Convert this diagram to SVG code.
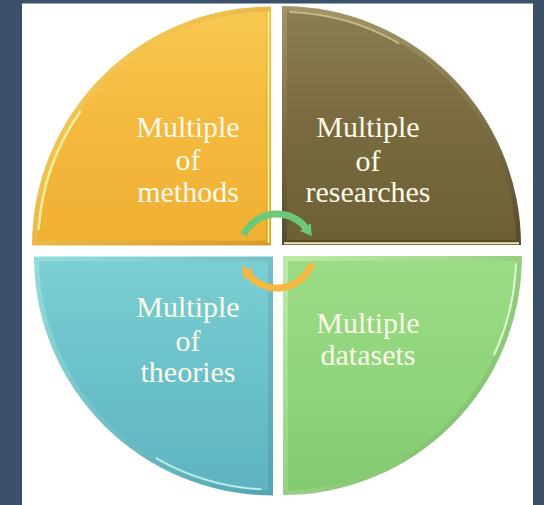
<svg xmlns="http://www.w3.org/2000/svg" width="544" height="505" viewBox="0 0 544 505">
  <style>
    .lbl { font-family: "Liberation Serif", "Times New Roman", serif; font-size: 30px; fill: #fdfaea; text-anchor: middle; }
    .arc { fill: none; stroke-width: 7; stroke-linecap: butt; }
    .hl { fill: none; stroke-linecap: round; }
  </style>
  <defs>
    <linearGradient id="eTL" x1="0" y1="0" x2="1" y2="1">
      <stop offset="0" stop-color="#fcd766"/>
      <stop offset="1" stop-color="#d79b2a"/>
    </linearGradient>
    <linearGradient id="gTL" x1="0" y1="0" x2="0" y2="1">
      <stop offset="0" stop-color="#f8c850"/>
      <stop offset="0.5" stop-color="#f4b93e"/>
      <stop offset="1" stop-color="#f0b034"/>
    </linearGradient>
    <linearGradient id="eTR" x1="0" y1="0" x2="0" y2="1">
      <stop offset="0" stop-color="#a39568"/>
      <stop offset="1" stop-color="#564b29"/>
    </linearGradient>
    <linearGradient id="gTR" x1="0" y1="0" x2="0" y2="1">
      <stop offset="0" stop-color="#8b7e52"/>
      <stop offset="0.45" stop-color="#7a6c40"/>
      <stop offset="1" stop-color="#6d6036"/>
    </linearGradient>
    <linearGradient id="eBL" x1="0" y1="0" x2="1" y2="1">
      <stop offset="0" stop-color="#95dcdc"/>
      <stop offset="1" stop-color="#54a4b1"/>
    </linearGradient>
    <linearGradient id="gBL" x1="0" y1="0" x2="0" y2="1">
      <stop offset="0" stop-color="#7bcfd2"/>
      <stop offset="0.5" stop-color="#6bc1ca"/>
      <stop offset="1" stop-color="#5fb3c2"/>
    </linearGradient>
    <linearGradient id="eBR" x1="0" y1="0" x2="1" y2="1">
      <stop offset="0" stop-color="#bdeca6"/>
      <stop offset="1" stop-color="#70b45e"/>
    </linearGradient>
    <linearGradient id="gBR" x1="0" y1="0" x2="0" y2="1">
      <stop offset="0" stop-color="#9bdc86"/>
      <stop offset="0.6" stop-color="#8dd47a"/>
      <stop offset="1" stop-color="#82ca6f"/>
    </linearGradient>
    <marker id="headG" viewBox="0 0 10 12" refX="3" refY="6" markerWidth="11" markerHeight="13.2" markerUnits="userSpaceOnUse" orient="auto">
      <path d="M0,0 L10,6 L0,12 z" fill="#6fc877"/>
    </marker>
    <marker id="headO" viewBox="0 0 10 12" refX="3" refY="6" markerWidth="11" markerHeight="13.2" markerUnits="userSpaceOnUse" orient="auto">
      <path d="M0,0 L10,6 L0,12 z" fill="#f5b843"/>
    </marker>
  </defs>

  <rect x="0" y="0" width="544" height="505" fill="#3b5069"/>
  <rect x="22" y="3.5" width="511" height="501.5" fill="#ffffff"/>

  <g id="node-methods">
    <path d="M271,245.5 L32,245.5 A239,239 0 0 1 271,6.5 Z" fill="url(#eTL)"/>
    <path d="M266,240.5 L37.05,240.5 A234,234 0 0 1 266,11.55 Z" fill="url(#gTL)"/>
    <path class="hl" d="M38.6,229.2 A233,233 0 0 1 80.1,111.9" stroke="#fff5a6" stroke-width="2.5" opacity="0.9"/>
    <line class="hl" x1="268.5" y1="12" x2="268.5" y2="242" stroke="#fff27c" stroke-width="2"/>
    <text class="lbl" x="188" y="137">Multiple</text>
    <text class="lbl" x="188" y="170">of</text>
    <text class="lbl" x="188" y="202">methods</text>
  </g>

  <g id="node-researches">
    <path d="M282,245 L282,6 A239,239 0 0 1 521,245 Z" fill="url(#eTR)"/>
    <path d="M287,240 L287,11.05 A234,234 0 0 1 515.95,240 Z" fill="url(#gTR)"/>
    <path class="hl" d="M290.1,12.1 A233,233 0 0 1 398.5,43.2" stroke="#d9cd9d" stroke-width="2" opacity="0.75"/>
    <line x1="284" y1="243.2" x2="519" y2="243.2" stroke="#efe5b8" stroke-width="2"/>
    <text class="lbl" x="368" y="137">Multiple</text>
    <text class="lbl" x="368" y="171">of</text>
    <text class="lbl" x="368" y="202">researches</text>
  </g>

  <g id="node-theories">
    <path d="M273,256.5 L273,495.5 A239,239 0 0 1 34,256.5 Z" fill="url(#eBL)"/>
    <path d="M268,261.5 L268,490.45 A234,234 0 0 1 39.05,261.5 Z" fill="url(#gBL)"/>
    <path class="hl" d="M260.8,489.2 A233,233 0 0 1 156.5,458.3" stroke="#c9f4f0" stroke-width="2" opacity="0.85"/>
    <text class="lbl" x="188" y="317">Multiple</text>
    <text class="lbl" x="188" y="351">of</text>
    <text class="lbl" x="188" y="382">theories</text>
  </g>

  <g id="node-datasets">
    <path d="M283,256 L522,256 A239,239 0 0 1 283,495 Z" fill="url(#eBR)"/>
    <path d="M288,261 L516.95,261 A234,234 0 0 1 288,489.95 Z" fill="url(#gBR)"/>
    <path class="hl" d="M515.9,264.1 A233,233 0 0 1 494.2,354.5" stroke="#e6ffd8" stroke-width="2" opacity="0.9"/>
    <text class="lbl" x="368" y="333">Multiple</text>
    <text class="lbl" x="368" y="365">datasets</text>
  </g>

  <g id="connectors">
    <path class="arc" d="M243.7,234.8 A37,37 0 0 1 307.3,229.8" stroke="#6fc877" marker-end="url(#headG)"/>
    <path class="arc" d="M311.8,263.7 A37,37 0 0 1 246.7,272.2" stroke="#f5b843" marker-end="url(#headO)"/>
  </g>
</svg>
